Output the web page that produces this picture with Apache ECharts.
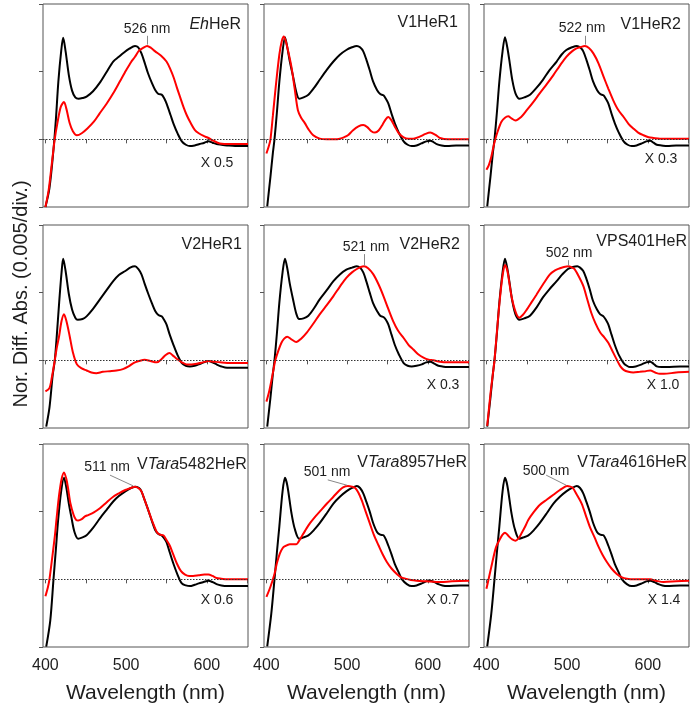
<!DOCTYPE html>
<html>
<head>
<meta charset="utf-8">
<script src="https://cdn.jsdelivr.net/npm/echarts@6/dist/echarts.min.js"></script>
<style>
html,body{margin:0;padding:0;background:#fff;}
#chart{width:693px;height:706px;}
</style>
</head>
<body>
<div id="chart"></div>
<script>
// ---------- DATA (wavelength nm, normalized difference absorbance in divisions) ----------
const xTicks = [400, 450, 500, 550, 600, 650];
const xTickLabels = [400, 500, 600];
const yTicks = [-1, 0, 1, 2];

const panelNames = ['{i|Eh}{n|HeR}', '{n|V1HeR1}', '{n|V1HeR2}', '{n|V2HeR1}', '{n|V2HeR2}', '{n|VPS401HeR}', '{n|V}{i|Tara}{n|5482HeR}', '{n|V}{i|Tara}{n|8957HeR}', '{n|V}{i|Tara}{n|4616HeR}'];
const scaleFactors = ['X 0.5', '', 'X 0.3', '', 'X 0.3', 'X 1.0', 'X 0.6', 'X 0.7', 'X 1.4'];
const peakLabels = ['526 nm', '', '522 nm', '', '521 nm', '502 nm', '511 nm', '501 nm', '500 nm'];
// annotation leader lines [x1,y1,x2,y2] in data units
const peakLeaders = [[526,1.40,526,1.53], null, [522,1.40,522,1.53], null, [521,1.40,521,1.57], [502,1.40,502,1.48], [509,1.38,480,1.54], [500,1.39,476,1.47], [499,1.39,474,1.54]];

const ehBlack = [[400,-1.00],[405,-0.72],[410,-0.15],[413,0.30],[416,0.85],[419.5,1.30],[422,1.50],[425,1.30],[429,0.95],[433,0.72],[437,0.62],[441,0.60],[446,0.61],[451,0.63],[459,0.71],[467,0.83],[476,1.00],[484,1.15],[491,1.22],[497,1.28],[504,1.34],[511,1.38],[515,1.36],[519,1.27],[523,1.13],[527,0.98],[532,0.83],[536,0.73],[540,0.67],[544,0.66],[547,0.61],[550,0.53],[555,0.36],[559,0.22],[564,0.08],[569,-0.03],[574,-0.08],[579,-0.10],[585,-0.09],[591,-0.07],[597,-0.05],[602,-0.03],[607,-0.05],[612,-0.07],[618,-0.08],[625,-0.09],[635,-0.10],[651,-0.10]];
const ehRed = [[400,-1.00],[404,-0.75],[408,-0.35],[411.5,0.00],[415,0.25],[419,0.48],[423,0.55],[426,0.45],[430,0.24],[434,0.12],[439,0.06],[445,0.09],[452,0.16],[460,0.26],[467,0.38],[476,0.53],[484,0.68],[492,0.85],[500,1.02],[506,1.14],[511,1.22],[516,1.31],[521,1.35],[526,1.38],[531,1.35],[536,1.30],[543,1.24],[550,1.15],[555,1.03],[559,0.91],[563,0.76],[567,0.62],[571,0.48],[575,0.36],[580,0.24],[585,0.14],[590,0.09],[596,0.05],[602,0.02],[608,-0.02],[616,-0.06],[630,-0.07],[651,-0.07]];

const v1r1Black = [[401,-0.99],[405,-0.55],[408,-0.20],[410,0.00],[413,0.40],[416,0.85],[420,1.30],[423,1.51],[426,1.35],[429,1.15],[433,0.93],[437,0.70],[440.6,0.60],[446,0.62],[452,0.66],[459,0.76],[466,0.88],[475,1.03],[483,1.15],[491,1.25],[499,1.32],[506,1.36],[512,1.38],[516,1.36],[520,1.30],[524,1.17],[528,1.02],[532,0.86],[537,0.73],[541,0.67],[545,0.65],[548,0.60],[551,0.53],[555,0.38],[559,0.24],[564,0.10],[570,-0.03],[575,-0.08],[580,-0.10],[586,-0.09],[592,-0.06],[598,-0.03],[603,-0.02],[607,-0.04],[611,-0.07],[617,-0.09],[624,-0.10],[635,-0.09],[651,-0.09]];
const v1r1Red = [[400,-0.21],[403,-0.10],[405,0.00],[408,0.35],[412,0.83],[416,1.25],[419,1.45],[421.5,1.52],[424,1.45],[427,1.30],[431,1.07],[435,0.75],[439,0.43],[443,0.32],[447.6,0.24],[452,0.15],[458,0.06],[466,0.01],[475,0.00],[485,0.00],[491,0.01],[496,0.03],[501,0.06],[507,0.13],[514,0.19],[520,0.21],[525,0.18],[530,0.12],[534.5,0.10],[539,0.13],[544,0.22],[548,0.30],[551,0.33],[555,0.28],[559,0.19],[564,0.09],[570,0.03],[576,0.01],[582,0.01],[590,0.04],[597,0.08],[603,0.10],[609,0.07],[615,0.02],[625,0.00],[640,0.00],[651,0.00]];

const v1r2Black = [[401,-0.99],[405,-0.55],[408,-0.20],[410,0.00],[413,0.40],[416,0.85],[420,1.30],[423,1.51],[426,1.35],[429,1.12],[432,0.88],[436,0.68],[441,0.60],[447,0.62],[454,0.66],[462,0.76],[470,0.88],[478,1.02],[487,1.15],[493,1.25],[499,1.32],[506,1.36],[512,1.38],[516,1.36],[520,1.30],[524,1.17],[528,1.02],[532,0.86],[537,0.73],[541,0.67],[545,0.65],[548,0.60],[551,0.53],[555,0.38],[559,0.24],[564,0.10],[570,-0.03],[575,-0.08],[580,-0.10],[586,-0.09],[592.5,-0.06],[598,-0.03],[603,-0.02],[607,-0.05],[611,-0.08],[617,-0.09],[624,-0.10],[635,-0.09],[651,-0.09]];
const v1r2Red = [[400,-0.45],[403,-0.38],[406,-0.26],[408.5,-0.12],[411,0.00],[414,0.12],[418.6,0.26],[423,0.32],[427,0.34],[431,0.31],[436,0.28],[443,0.33],[450,0.43],[458,0.55],[466,0.68],[475,0.82],[483,0.95],[491,1.09],[499,1.22],[506,1.30],[511,1.34],[516,1.36],[522,1.38],[527,1.35],[532.5,1.27],[539,1.12],[545,0.93],[551,0.75],[557,0.58],[563,0.44],[570,0.33],[576,0.23],[582,0.16],[588,0.10],[594.6,0.06],[601,0.03],[607,0.02],[615,0.01],[630,0.01],[651,0.01]];

const v2r1Black = [[401,-0.98],[405,-0.70],[409,-0.22],[411.6,0.00],[414,0.35],[417,0.85],[420,1.30],[422,1.50],[425,1.32],[429,0.98],[433,0.75],[437,0.63],[440,0.60],[446,0.61],[451,0.65],[459,0.76],[467.5,0.90],[476,1.04],[484,1.17],[491,1.26],[499,1.32],[505,1.37],[511,1.39],[515,1.35],[519,1.27],[523,1.13],[527.5,0.98],[532,0.84],[536,0.73],[540,0.67],[544,0.65],[547,0.60],[550,0.53],[554,0.38],[558.6,0.23],[564,0.07],[569,-0.04],[574,-0.08],[579,-0.09],[585,-0.08],[590,-0.06],[596,-0.03],[602,-0.01],[607,-0.03],[612,-0.06],[618,-0.09],[625,-0.11],[641,-0.11],[651,-0.11]];
const v2r1Red = [[400,-0.46],[405,-0.41],[408,-0.25],[411.6,0.00],[414,0.18],[417,0.36],[420,0.58],[423,0.68],[426,0.58],[430,0.36],[434,0.12],[439,-0.06],[445,-0.12],[451,-0.15],[457,-0.18],[463,-0.19],[471,-0.17],[480,-0.16],[488,-0.15],[496,-0.13],[503,-0.09],[509,-0.04],[516,-0.01],[523,0.01],[530,-0.01],[538,-0.03],[544,0.02],[549,0.08],[553.6,0.11],[558,0.07],[563,0.02],[569,-0.03],[575,-0.06],[581,-0.06],[587.6,-0.05],[595,-0.03],[602,-0.01],[609,-0.02],[616.5,-0.03],[630,-0.04],[651,-0.04]];

const v2r2Black = [[401,-0.98],[405,-0.55],[408,-0.20],[410,0.00],[413,0.40],[416,0.85],[420,1.30],[423,1.50],[426,1.35],[429,1.13],[433,0.90],[437,0.69],[440.6,0.61],[446,0.62],[452,0.66],[459,0.77],[466,0.90],[475,1.04],[483,1.17],[491,1.27],[499,1.34],[506,1.37],[512,1.39],[516,1.37],[520,1.30],[524,1.16],[528,1.00],[532,0.85],[537,0.73],[541,0.66],[545,0.64],[548,0.60],[551,0.53],[555,0.38],[559,0.23],[564,0.09],[570,-0.04],[575,-0.08],[580,-0.09],[586,-0.08],[592.5,-0.06],[598,-0.03],[603,-0.02],[608,-0.05],[613,-0.08],[618,-0.09],[623.6,-0.10],[651,-0.10]];
const v2r2Red = [[400,-0.61],[403,-0.48],[406,-0.31],[409,-0.12],[411,0.00],[415,0.15],[418.6,0.26],[422,0.32],[425.7,0.35],[431,0.31],[437,0.27],[443,0.32],[450,0.41],[458,0.54],[466,0.68],[475,0.82],[483,0.95],[491,1.09],[499,1.22],[506,1.30],[512,1.35],[517,1.38],[521,1.39],[526,1.36],[532.5,1.27],[539,1.12],[545,0.95],[551,0.76],[557,0.58],[563,0.44],[570,0.33],[576,0.23],[582,0.16],[588,0.09],[594.6,0.04],[601,0.01],[607,0.00],[615,-0.02],[623.6,-0.03],[651,-0.03]];

const ps401Black = [[401,-0.98],[405,-0.55],[408,-0.20],[410,0.00],[413,0.40],[416,0.85],[420,1.30],[423,1.50],[426,1.35],[429,1.12],[432,0.88],[436,0.68],[441,0.60],[447,0.62],[454,0.66],[462,0.78],[470,0.93],[478,1.05],[487,1.17],[494,1.27],[501,1.35],[507,1.38],[512.6,1.39],[516,1.37],[520,1.32],[524,1.20],[528,1.05],[532,0.88],[537,0.75],[541,0.68],[545,0.65],[548,0.60],[551,0.53],[555,0.38],[559,0.23],[564,0.08],[570,-0.04],[574,-0.08],[578,-0.10],[585,-0.09],[592.5,-0.06],[598,-0.03],[603,-0.02],[607,-0.05],[611,-0.09],[617,-0.10],[623.6,-0.10],[640,-0.09],[651,-0.09]];
const ps401Red = [[401,-0.97],[405,-0.50],[408,-0.20],[410,0.00],[413,0.42],[416.6,0.90],[420,1.25],[423,1.41],[426,1.32],[431,0.95],[436,0.72],[440.6,0.63],[445,0.67],[450,0.75],[456,0.86],[462,0.97],[470,1.12],[478.7,1.27],[485,1.33],[491,1.36],[496,1.38],[502,1.39],[506,1.37],[509,1.35],[514,1.25],[520,1.10],[525,0.90],[530,0.70],[535,0.55],[541,0.41],[546,0.34],[551,0.26],[556,0.14],[561.5,0.01],[566,-0.09],[570,-0.14],[576,-0.17],[582,-0.18],[590,-0.17],[597,-0.16],[603,-0.15],[609,-0.18],[615,-0.20],[620,-0.20],[635,-0.18],[651,-0.17]];

const t5482Black = [[401,-0.995],[406,-0.61],[410,0.00],[413,0.45],[415.7,0.87],[419.5,1.30],[423,1.50],[426,1.35],[429,1.12],[432,0.93],[436,0.70],[440.6,0.60],[446,0.62],[451,0.65],[459,0.76],[467.5,0.90],[476,1.03],[484,1.15],[491,1.23],[499,1.30],[506,1.35],[512,1.37],[516,1.35],[519,1.30],[523,1.17],[527.5,1.02],[532,0.86],[536,0.73],[540,0.67],[544,0.65],[547,0.61],[550,0.55],[554,0.40],[558.6,0.23],[564,0.06],[569,-0.06],[574,-0.09],[579,-0.10],[585,-0.08],[590,-0.06],[596,-0.04],[602,-0.02],[607,-0.04],[612,-0.07],[618,-0.09],[625,-0.10],[641,-0.10],[651,-0.10]];
const t5482Red = [[400,-0.25],[403,-0.12],[405,0.00],[408,0.28],[411.6,0.63],[414,0.92],[417,1.25],[420,1.48],[423,1.58],[426,1.48],[428,1.35],[431,1.12],[435,0.95],[438,0.88],[440.6,0.87],[445,0.89],[449,0.93],[453,0.95],[460,0.99],[467.5,1.05],[476,1.14],[484,1.22],[491,1.27],[499,1.32],[506,1.35],[511,1.37],[515,1.35],[519,1.30],[523,1.17],[527.5,1.02],[533,0.84],[538,0.70],[542,0.66],[546,0.65],[550,0.58],[554,0.50],[558,0.38],[563,0.23],[568,0.12],[573,0.07],[578,0.05],[583,0.05],[590,0.06],[597,0.07],[602,0.07],[607,0.05],[612,0.02],[618,0.01],[625,0.00],[651,0.00]];

const t8957Black = [[401,-0.99],[406,-0.51],[410,0.00],[413,0.40],[416,0.78],[420,1.30],[423,1.50],[426,1.38],[431,0.98],[435,0.75],[440.6,0.60],[446,0.62],[452,0.65],[459,0.73],[466,0.83],[475,0.98],[483,1.12],[491,1.22],[499,1.30],[506,1.35],[512,1.38],[516,1.35],[520,1.27],[524,1.14],[528,1.00],[532,0.84],[537,0.70],[541,0.66],[545,0.65],[548,0.59],[551,0.50],[555,0.37],[559,0.23],[564,0.10],[568,0.00],[574,-0.07],[580,-0.10],[586,-0.09],[592.5,-0.06],[598,-0.03],[603,-0.02],[608,-0.04],[613,-0.07],[618,-0.09],[623.6,-0.10],[640,-0.09],[651,-0.09]];
const t8957Red = [[400,-0.26],[405,-0.11],[410,0.08],[413,0.24],[416.6,0.38],[420,0.46],[423,0.49],[429,0.52],[437,0.52],[440,0.56],[443.5,0.63],[448,0.72],[454,0.83],[460,0.92],[466,1.00],[475,1.12],[483,1.22],[490,1.31],[495,1.36],[501,1.38],[506,1.37],[510,1.35],[514,1.28],[518,1.17],[523,1.00],[528,0.83],[533,0.66],[539,0.50],[544,0.37],[549,0.26],[555,0.16],[561.5,0.08],[567,0.03],[572,0.01],[579,-0.01],[586,-0.02],[598,-0.03],[611,-0.04],[630,-0.03],[651,-0.02]];

const t4616Black = [[401,-0.99],[406,-0.51],[410,0.00],[413,0.40],[416,0.78],[420,1.30],[423,1.50],[426,1.38],[431,0.98],[435,0.75],[440.6,0.60],[446,0.62],[452,0.65],[459,0.73],[466,0.83],[475,0.98],[483,1.12],[491,1.22],[499,1.30],[506,1.35],[512,1.38],[516,1.35],[520,1.27],[524,1.14],[528,1.00],[532,0.84],[537,0.70],[541,0.66],[545,0.65],[548,0.59],[551,0.50],[555,0.37],[559,0.23],[564,0.10],[568,0.00],[574,-0.07],[580,-0.10],[586,-0.09],[592.5,-0.06],[598,-0.03],[603,-0.02],[608,-0.04],[613,-0.07],[618,-0.09],[623.6,-0.10],[640,-0.09],[651,-0.09]];
const t4616Red = [[400,-0.14],[403,0.02],[406,0.18],[409,0.34],[412,0.48],[417,0.60],[420,0.66],[423,0.69],[426,0.66],[429,0.62],[432,0.59],[436,0.57],[440,0.61],[443.5,0.68],[448,0.78],[452,0.88],[459,1.00],[466,1.10],[475,1.18],[483,1.25],[491,1.32],[496,1.36],[500,1.38],[504,1.37],[507,1.35],[512,1.25],[518,1.12],[523,0.95],[528,0.78],[534,0.62],[539,0.48],[544,0.36],[549,0.26],[555,0.16],[561.5,0.08],[568,0.03],[574,0.01],[582,0.00],[590,0.00],[603,0.00],[610,-0.02],[619.5,-0.04],[635,-0.03],[651,-0.02]];

const blackSeries = [ehBlack, v1r1Black, v1r2Black, v2r1Black, v2r2Black, ps401Black, t5482Black, t8957Black, t4616Black];
const redSeries = [ehRed, v1r1Red, v1r2Red, v2r1Red, v2r2Red, ps401Red, t5482Red, t8957Red, t4616Red];

// ---------- LAYOUT ----------
const FONT = '"Liberation Sans", Arial, Helvetica, sans-serif';
const TXT = '#1e1e1e';
const colLeft = [43, 264, 484];
const rowTop = [4, 225, 444];
const GW = 205, GH = 203;
const XMIN = 397, XMAX = 651;

const namePos = [[241,25],[458,23],[681,25],[242,245],[460,245],[687,242],[137,465],[467,463],[687,463]];
const nameAlign = ['right','right','right','right','right','right','left','right','right'];
const factorPos = [[217,163],null,[661,159],null,[443,385],[663,385],[217,600],[443,600],[664,600]];
const peakPos = [[147,29],null,[582,28],null,[366,247],[569,253],[107,467],[327,472],[546,471]];

const grids = [], xAxes = [], yAxes = [], series = [], graphics = [];
for (let i = 0; i < 9; i++) {
  const r = Math.floor(i / 3), c = i % 3;
  grids.push({left: colLeft[c], top: rowTop[r], width: GW, height: GH, show: true, borderColor: '#555', borderWidth: 1, backgroundColor: 'transparent'});
  xAxes.push({
    gridIndex: i, type: 'value', min: XMIN, max: XMAX,
    axisLine: {show: false}, splitLine: {show: false},
    axisTick: {show: true, length: 4, customValues: xTicks, lineStyle: {color: '#555', width: 1}},
    axisLabel: {show: r === 2, customValues: xTickLabels, fontSize: 16, color: TXT, fontFamily: FONT, margin: 11},
    name: r === 2 ? 'Wavelength (nm)' : '', nameLocation: 'middle', nameGap: 36,
    nameTextStyle: {fontSize: 21, color: TXT, fontFamily: FONT}
  });
  yAxes.push({
    gridIndex: i, type: 'value', min: -1, max: 2, interval: 1,
    axisLine: {show: false}, splitLine: {show: false},
    axisTick: {show: true, length: 4, lineStyle: {color: '#555', width: 1}},
    axisLabel: {show: false}
  });
  series.push({
    type: 'line', xAxisIndex: i, yAxisIndex: i, data: blackSeries[i],
    showSymbol: false, smooth: 0.3, silent: true,
    lineStyle: {color: '#000', width: 2}, itemStyle: {color: '#000'},
    markLine: {silent: true, symbol: ['none','none'], label: {show: false},
      lineStyle: {type: [1.5, 1.5], color: '#333', width: 1}, data: [{yAxis: 0}]}
  });
  const redSer = {
    type: 'line', xAxisIndex: i, yAxisIndex: i, data: redSeries[i],
    showSymbol: false, smooth: 0.3, silent: true,
    lineStyle: {color: '#ff0000', width: 2}, itemStyle: {color: '#ff0000'}
  };
  if (peakLeaders[i]) {
    const p = peakLeaders[i];
    redSer.markLine = {silent: true, symbol: ['none','none'], label: {show: false},
      lineStyle: {type: 'solid', color: '#888', width: 1},
      data: [[{coord: [p[0], p[1]]}, {coord: [p[2], p[3]]}]]};
  }
  series.push(redSer);

  graphics.push({type: 'text', x: namePos[i][0], y: namePos[i][1], silent: true,
    style: {text: panelNames[i], textAlign: nameAlign[i], textVerticalAlign: 'middle', fill: TXT,
      fontSize: 16, fontFamily: FONT,
      rich: {i: {fontStyle: 'italic', fontSize: 16, fontFamily: FONT, fill: TXT, color: TXT},
             n: {fontSize: 16, fontFamily: FONT, fill: TXT, color: TXT}}}});
  if (factorPos[i]) graphics.push({type: 'text', x: factorPos[i][0], y: factorPos[i][1], silent: true,
    style: {text: scaleFactors[i], textAlign: 'center', textVerticalAlign: 'middle', fill: TXT, fontSize: 14, fontFamily: FONT}});
  if (peakPos[i]) graphics.push({type: 'text', x: peakPos[i][0], y: peakPos[i][1], silent: true,
    style: {text: peakLabels[i], textAlign: 'center', textVerticalAlign: 'middle', fill: TXT, fontSize: 14, fontFamily: FONT}});
}
graphics.push({type: 'text', x: 21, y: 294, rotation: Math.PI / 2, silent: true,
  style: {text: 'Nor. Diff. Abs. (0.005/div.)', textAlign: 'center', textVerticalAlign: 'middle', fill: TXT, fontSize: 20, fontFamily: FONT}});

const chart = echarts.init(document.getElementById('chart'), null, {renderer: 'canvas'});
chart.setOption({
  animation: false,
  backgroundColor: '#fff',
  grid: grids, xAxis: xAxes, yAxis: yAxes, series: series, graphic: graphics
});
</script>
</body>
</html>
